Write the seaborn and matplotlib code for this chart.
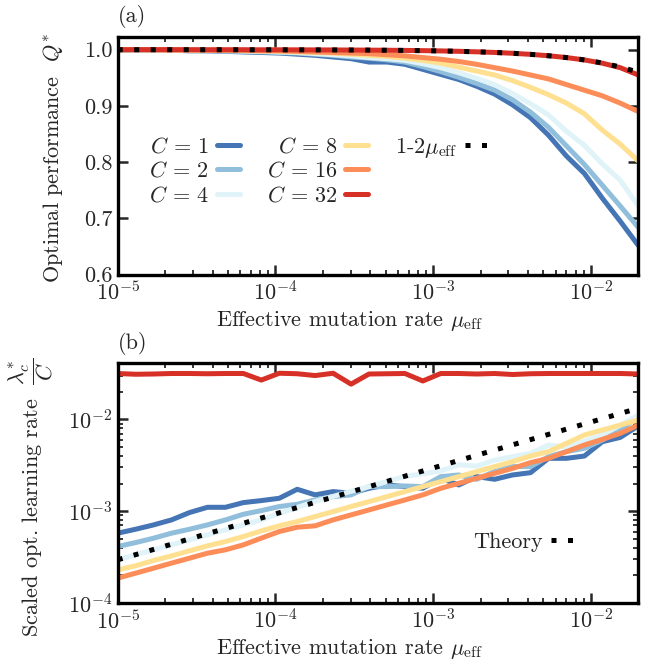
import numpy as np
import pandas as pd
import matplotlib
matplotlib.use("Agg")
import matplotlib.pyplot as plt
import seaborn as sns
from matplotlib.lines import Line2D
from matplotlib.ticker import LogLocator, NullFormatter, FixedLocator

# ---------------- data ----------------
mu_eff = [1.000e-5, 1.300e-5, 1.689e-5, 2.195e-5, 2.853e-5, 3.707e-5, 4.818e-5, 6.262e-5,
          8.138e-5, 1.058e-4, 1.375e-4, 1.786e-4, 2.321e-4, 3.017e-4, 3.921e-4, 5.096e-4,
          6.622e-4, 8.606e-4, 1.118e-3, 1.454e-3, 1.889e-3, 2.455e-3, 3.190e-3, 4.146e-3,
          5.388e-3, 7.002e-3, 9.100e-3, 1.183e-2, 1.537e-2, 2.000e-2]
C_values = [1, 2, 4, 8, 16, 32]

Q_C1 = [0.9995, 0.9995, 0.999, 0.999, 0.998, 0.998, 0.997, 0.996, 0.995, 0.994, 0.992, 0.990,
        0.987, 0.984, 0.978, 0.978, 0.974, 0.965, 0.956, 0.947, 0.935, 0.921, 0.902, 0.879,
        0.848, 0.811, 0.780, 0.736, 0.695, 0.652]
Q_C2 = [0.9995, 0.9995, 0.999, 0.999, 0.999, 0.998, 0.998, 0.997, 0.996, 0.995, 0.994, 0.992,
        0.990, 0.987, 0.985, 0.982, 0.978, 0.970, 0.961, 0.951, 0.940, 0.928, 0.911, 0.889,
        0.862, 0.829, 0.796, 0.759, 0.722, 0.684]
Q_C4 = [1.0, 0.9995, 0.9995, 0.999, 0.999, 0.999, 0.998, 0.998, 0.997, 0.996, 0.995, 0.993,
        0.991, 0.989, 0.986, 0.984, 0.981, 0.975, 0.968, 0.959, 0.949, 0.938, 0.922, 0.904,
        0.884, 0.855, 0.830, 0.797, 0.768, 0.722]
Q_C8 = [1.0, 1.0, 0.9995, 0.9995, 0.999, 0.999, 0.999, 0.998, 0.998, 0.997, 0.996, 0.995,
        0.994, 0.992, 0.990, 0.988, 0.985, 0.981, 0.976, 0.969, 0.962, 0.955, 0.945, 0.933,
        0.920, 0.905, 0.886, 0.857, 0.832, 0.802]
Q_C16 = [1.0, 1.0, 1.0, 0.9995, 0.9995, 0.999, 0.999, 0.999, 0.998, 0.998, 0.997, 0.996,
         0.995, 0.994, 0.993, 0.991, 0.989, 0.986, 0.983, 0.979, 0.974, 0.968, 0.962, 0.955,
         0.948, 0.938, 0.928, 0.918, 0.905, 0.890]
Q_C32 = [1.0, 1.0, 1.0, 1.0, 0.9999, 0.9999, 0.9999, 0.9999, 0.9998, 0.9998, 0.9997, 0.9996,
         0.9995, 0.9994, 0.9992, 0.999, 0.9987, 0.9983, 0.9978, 0.9971, 0.9962, 0.9951, 0.9936,
         0.9917, 0.9892, 0.986, 0.9818, 0.976, 0.968, 0.955]
Q_theory = [0.99998, 0.99997, 0.99997, 0.99996, 0.99994, 0.99993, 0.9999, 0.99987, 0.99984,
            0.99979, 0.99973, 0.99964, 0.99954, 0.9994, 0.99922, 0.99898, 0.99868, 0.99828,
            0.99776, 0.99709, 0.99622, 0.99509, 0.99362, 0.9917, 0.98922, 0.98598, 0.9818,
            0.97635, 0.96926, 0.96005]

lam_C1 = [5.77e-4, 6.37e-4, 7.10e-4, 8.05e-4, 9.68e-4, 1.104e-3, 1.104e-3, 1.242e-3, 1.306e-3,
          1.384e-3, 1.734e-3, 1.507e-3, 1.637e-3, 1.570e-3, 1.778e-3, 1.932e-3, 1.854e-3,
          1.778e-3, 2.286e-3, 1.932e-3, 2.382e-3, 2.228e-3, 2.483e-3, 2.630e-3, 3.767e-3,
          3.767e-3, 3.990e-3, 5.715e-3, 6.368e-3, 8.5e-3]
lam_C2 = [4.13e-4, 4.56e-4, 5.09e-4, 5.77e-4, 6.37e-4, 7.10e-4, 8.05e-4, 9.27e-4, 1.016e-3,
          1.125e-3, 1.191e-3, 1.327e-3, 1.442e-3, 1.507e-3, 1.854e-3, 1.854e-3, 1.884e-3,
          1.854e-3, 2.382e-3, 2.483e-3, 2.228e-3, 2.698e-3, 3.062e-3, 3.062e-3, 3.926e-3,
          4.457e-3, 4.842e-3, 5.957e-3, 7.656e-3, 1.069e-2]
lam_C4 = [2.96e-4, 3.35e-4, 3.80e-4, 4.31e-4, 4.88e-4, 5.53e-4, 6.27e-4, 7.10e-4, 8.05e-4,
          9.5e-4, 1.10e-3, 1.28e-3, 1.45e-3, 1.65e-3, 1.85e-3, 2.1e-3, 2.4e-3, 2.55e-3, 2.75e-3,
          3.2e-3, 3.1e-3, 3.6e-3, 3.93e-3, 4.27e-3, 5.26e-3, 5.0e-3, 5.8e-3, 6.8e-3, 8.67e-3,
          1.11e-2]
lam_C8 = [2.301e-4, 2.547e-4, 2.911e-4, 3.266e-4, 3.707e-4, 4.198e-4, 4.677e-4, 5.309e-4,
          6.109e-4, 6.934e-4, 7.727e-4, 8.750e-4, 9.908e-4, 1.125e-3, 1.274e-3, 1.442e-3,
          1.637e-3, 1.854e-3, 2.099e-3, 2.382e-3, 2.698e-3, 3.062e-3, 3.467e-3, 3.990e-3,
          4.457e-3, 5.483e-3, 6.761e-3, 7.656e-3, 8.670e-3, 9.84e-3]
lam_C16 = [1.871e-4, 2.118e-4, 2.399e-4, 2.723e-4, 3.083e-4, 3.491e-4, 3.802e-4, 4.305e-4,
           5.093e-4, 6.012e-4, 6.699e-4, 6.934e-4, 8.054e-4, 9.12e-4, 1.033e-3, 1.172e-3,
           1.327e-3, 1.507e-3, 1.778e-3, 2.014e-3, 2.286e-3, 2.588e-3, 2.931e-3, 3.381e-3,
           3.767e-3, 4.457e-3, 5.26e-3, 6.067e-3, 7.047e-3, 8.67e-3]
lam_C32 = [0.0316, 0.0310, 0.0312, 0.0316, 0.0316, 0.0314, 0.0316, 0.0316, 0.0268, 0.0318,
           0.0314, 0.0300, 0.0318, 0.0242, 0.0312, 0.0314, 0.0316, 0.0262, 0.0316, 0.0316,
           0.0312, 0.0316, 0.0308, 0.0314, 0.0316, 0.0316, 0.0316, 0.0316, 0.0316, 0.0312]
lam_theory = [2.96e-4, 3.37e-4, 3.84e-4, 4.38e-4, 5.00e-4, 5.70e-4, 6.49e-4, 7.40e-4, 8.44e-4,
              9.62e-4, 1.097e-3, 1.250e-3, 1.425e-3, 1.625e-3, 1.852e-3, 2.112e-3, 2.407e-3,
              2.744e-3, 3.129e-3, 3.567e-3, 4.066e-3, 4.635e-3, 5.284e-3, 6.024e-3, 6.867e-3,
              7.829e-3, 8.925e-3, 1.0174e-2, 1.1599e-2, 1.3222e-2]

Q_series = [Q_C1, Q_C2, Q_C4, Q_C8, Q_C16, Q_C32]
lam_series = [lam_C1, lam_C2, lam_C4, lam_C8, lam_C16, lam_C32]

rows = []
for c, qs, ls in zip(C_values, Q_series, lam_series):
    for m, q, l in zip(mu_eff, qs, ls):
        rows.append({"mu": m, "Q": q, "lam": l, "C": c})
df = pd.DataFrame(rows)

# ---------------- style ----------------
sns.set_style("ticks")
FS = 16
plt.rcParams.update({
    "font.family": "serif",
    "font.serif": ["cmr10"],
    "mathtext.fontset": "cm",
    "axes.formatter.use_mathtext": True,
    "font.size": FS,
    "axes.unicode_minus": False,
})

colors = ["#4575b4", "#91bfdb", "#e0f3f8", "#fee090", "#fc8d59", "#d73027"]
palette = dict(zip(C_values, colors))
LW = 3.6
DOT = (0, (1, 2.3))

fig = plt.figure(figsize=(6.54, 6.62), dpi=100)
ax1 = fig.add_axes([0.180, 0.585, 0.796, 0.3595])
ax2 = fig.add_axes([0.180, 0.089, 0.796, 0.3625])

sns.lineplot(data=df, x="mu", y="Q", hue="C", hue_order=C_values, palette=palette,
             lw=LW, legend=False, estimator=None, sort=False, ax=ax1)
sns.lineplot(x=mu_eff, y=Q_theory, color="k", linestyle=DOT, lw=LW, ax=ax1, zorder=5)

sns.lineplot(data=df, x="mu", y="lam", hue="C", hue_order=C_values, palette=palette,
             lw=LW, legend=False, estimator=None, sort=False, ax=ax2)
sns.lineplot(x=mu_eff, y=lam_theory, color="k", linestyle=DOT, lw=LW, ax=ax2, zorder=5)

for ax in (ax1, ax2):
    ax.set_xscale("log")
    ax.set_xlim(1e-5, 2e-2)
    ax.xaxis.set_major_locator(LogLocator(base=10, numticks=10))
    ax.xaxis.set_minor_locator(LogLocator(base=10, subs=np.arange(2, 10), numticks=20))
    ax.xaxis.set_minor_formatter(NullFormatter())
    ax.tick_params(which="both", direction="in", top=True, right=True, labelsize=FS)
    ax.tick_params(which="major", length=7, width=1.8, pad=4)
    ax.tick_params(which="minor", length=3.5, width=1.3)
    for s in ax.spines.values():
        s.set_linewidth(2.4)
        s.set_color("black")
    ax.set_xlabel(r"Effective mutation rate $\mu_{\rm eff}$", fontsize=FS)
    ax.xaxis.set_label_coords(0.445, -0.142)

ax1.set_ylim(0.6, 1.023)
ax1.yaxis.set_major_locator(FixedLocator([0.6, 0.7, 0.8, 0.9, 1.0]))
ax1.set_yticklabels(["0.6", "0.7", "0.8", "0.9", "1.0"])
ax1.set_ylabel(r"Optimal performance  $Q^{*}$", fontsize=FS)
ax1.yaxis.set_label_coords(-0.10, 0.49)

ax2.set_yscale("log")
ax2.set_ylim(1e-4, 4.1e-2)
ax2.yaxis.set_major_locator(LogLocator(base=10, numticks=10))
ax2.yaxis.set_minor_locator(LogLocator(base=10, subs=np.arange(2, 10), numticks=20))
ax2.yaxis.set_minor_formatter(NullFormatter())
ax2.set_ylabel(r"Scaled opt. learning rate  $\dfrac{\lambda^{*}_{c}}{C}$", fontsize=FS)
ax2.yaxis.set_label_coords(-0.12, 0.44)

ax1.text(0.0, 1.035, "(a)", transform=ax1.transAxes, ha="left", va="bottom", fontsize=FS)
ax2.text(0.0, 1.035, "(b)", transform=ax2.transAxes, ha="left", va="bottom", fontsize=FS)

# legends
lines1 = ax1.get_lines()
blank = Line2D([], [], alpha=0)
handles = list(lines1[:6]) + [lines1[6], blank, blank]
labels = [rf"$C\,=\,{c}$" for c in C_values] + [r"1-2$\mu_{\rm eff}$", "", ""]
ax1.legend(handles, labels, ncol=3, markerfirst=False, frameon=False,
           loc="upper left", bbox_to_anchor=(0.06, 0.585), fontsize=FS,
           handlelength=1.05, handletextpad=0.35, columnspacing=1.2, labelspacing=0.2,
           borderpad=0.0, borderaxespad=0.0)

th = ax2.get_lines()[6]
ax2.legend([th], ["Theory"], markerfirst=False, frameon=False, loc="center left",
           bbox_to_anchor=(0.683, 0.254), fontsize=FS, handlelength=1.05,
           handletextpad=0.35, borderpad=0.0, borderaxespad=0.0)

fig.savefig("out.png", dpi=100)
